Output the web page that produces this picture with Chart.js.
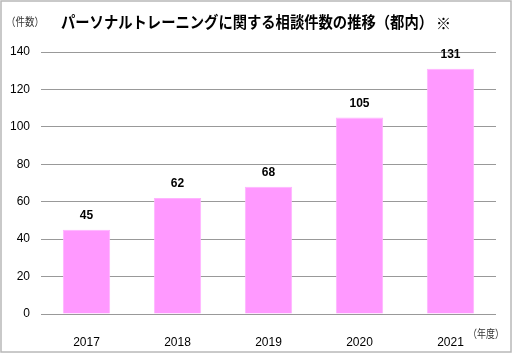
<!DOCTYPE html>
<html lang="ja">
<head>
<meta charset="UTF-8">
<title>パーソナルトレーニングに関する相談件数の推移</title>
<script src="https://cdn.jsdelivr.net/npm/chart.js"></script>
<style>
  body { margin: 0; background: #fff; }
  #wrap { width: 512px; height: 353px; position: relative; }
</style>
</head>
<body>
<div id="wrap"><canvas id="chart"></canvas></div>
<script>
const years = ['2017', '2018', '2019', '2020', '2021'];
const counts = [45, 62, 68, 105, 131];
const yTicks = [0, 20, 40, 60, 80, 100, 120, 140];

const titleText = 'パーソナルトレーニングに関する相談件数の推移（都内）';
const jpFont = '"Noto Sans CJK JP", "Noto Sans", sans-serif';
const numFont = '"Liberation Sans", Arial, sans-serif';

// title, unit labels, value labels, frame
const decorations = {
  id: 'decorations',
  afterDatasetsDraw(chart) {
    const ctx = chart.ctx;
    const meta = chart.getDatasetMeta(0);
    ctx.save();
    ctx.fillStyle = '#000';
    ctx.font = 'bold 12px ' + numFont;
    ctx.textAlign = 'center';
    ctx.textBaseline = 'middle';
    meta.data.forEach((bar, i) => {
      ctx.fillText(counts[i], bar.x, bar.y - 14);
    });
    ctx.restore();
  },
  afterDraw(chart) {
    const ctx = chart.ctx;
    ctx.save();
    ctx.fillStyle = '#000';
    ctx.textBaseline = 'middle';
    ctx.textAlign = 'left';
    ctx.font = 'bold 16px ' + jpFont;
    ctx.fillText(titleText, 61, 22, 372);
    ctx.font = 'bold 15px ' + jpFont;
    ctx.fillText('※', 436, 23);
    ctx.font = '11px ' + jpFont;
    ctx.fillStyle = '#333';
    ctx.fillText('（件数）', 6, 22, 38);
    ctx.fillText('（年度）', 468, 334, 36);
    ctx.strokeStyle = '#b8b8b8';
    ctx.lineWidth = 1.5;
    ctx.strokeRect(1, 1, 510, 351);
    ctx.restore();
  }
};

new Chart(document.getElementById('chart'), {
  type: 'bar',
  data: {
    labels: years,
    datasets: [{
      data: counts,
      backgroundColor: '#ff99ff',
      borderColor: '#ffb3ff',
      borderWidth: 1,
      categoryPercentage: 1,
      barPercentage: 0.52
    }]
  },
  options: {
    responsive: true,
    maintainAspectRatio: false,
    animation: false,
    layout: { padding: { left: 0, top: 52, right: 16, bottom: 0 } },
    plugins: { legend: { display: false }, tooltip: { enabled: false } },
    scales: {
      x: {
        afterFit(scale) { scale.height = 39; },
        grid: { display: false },
        border: { display: false },
        ticks: { color: '#000', font: { family: numFont, size: 12 }, padding: 13 }
      },
      y: {
        min: 0,
        max: 140,
        afterFit(scale) { scale.width = 41; },
        afterBuildTicks(scale) { scale.ticks = yTicks.map(v => ({ value: v })); },
        grid: { color: '#999', drawTicks: false },
        border: { display: false },
        ticks: { color: '#000', font: { family: numFont, size: 12 }, padding: 11 }
      }
    }
  },
  plugins: [decorations]
});
</script>
</body>
</html>
